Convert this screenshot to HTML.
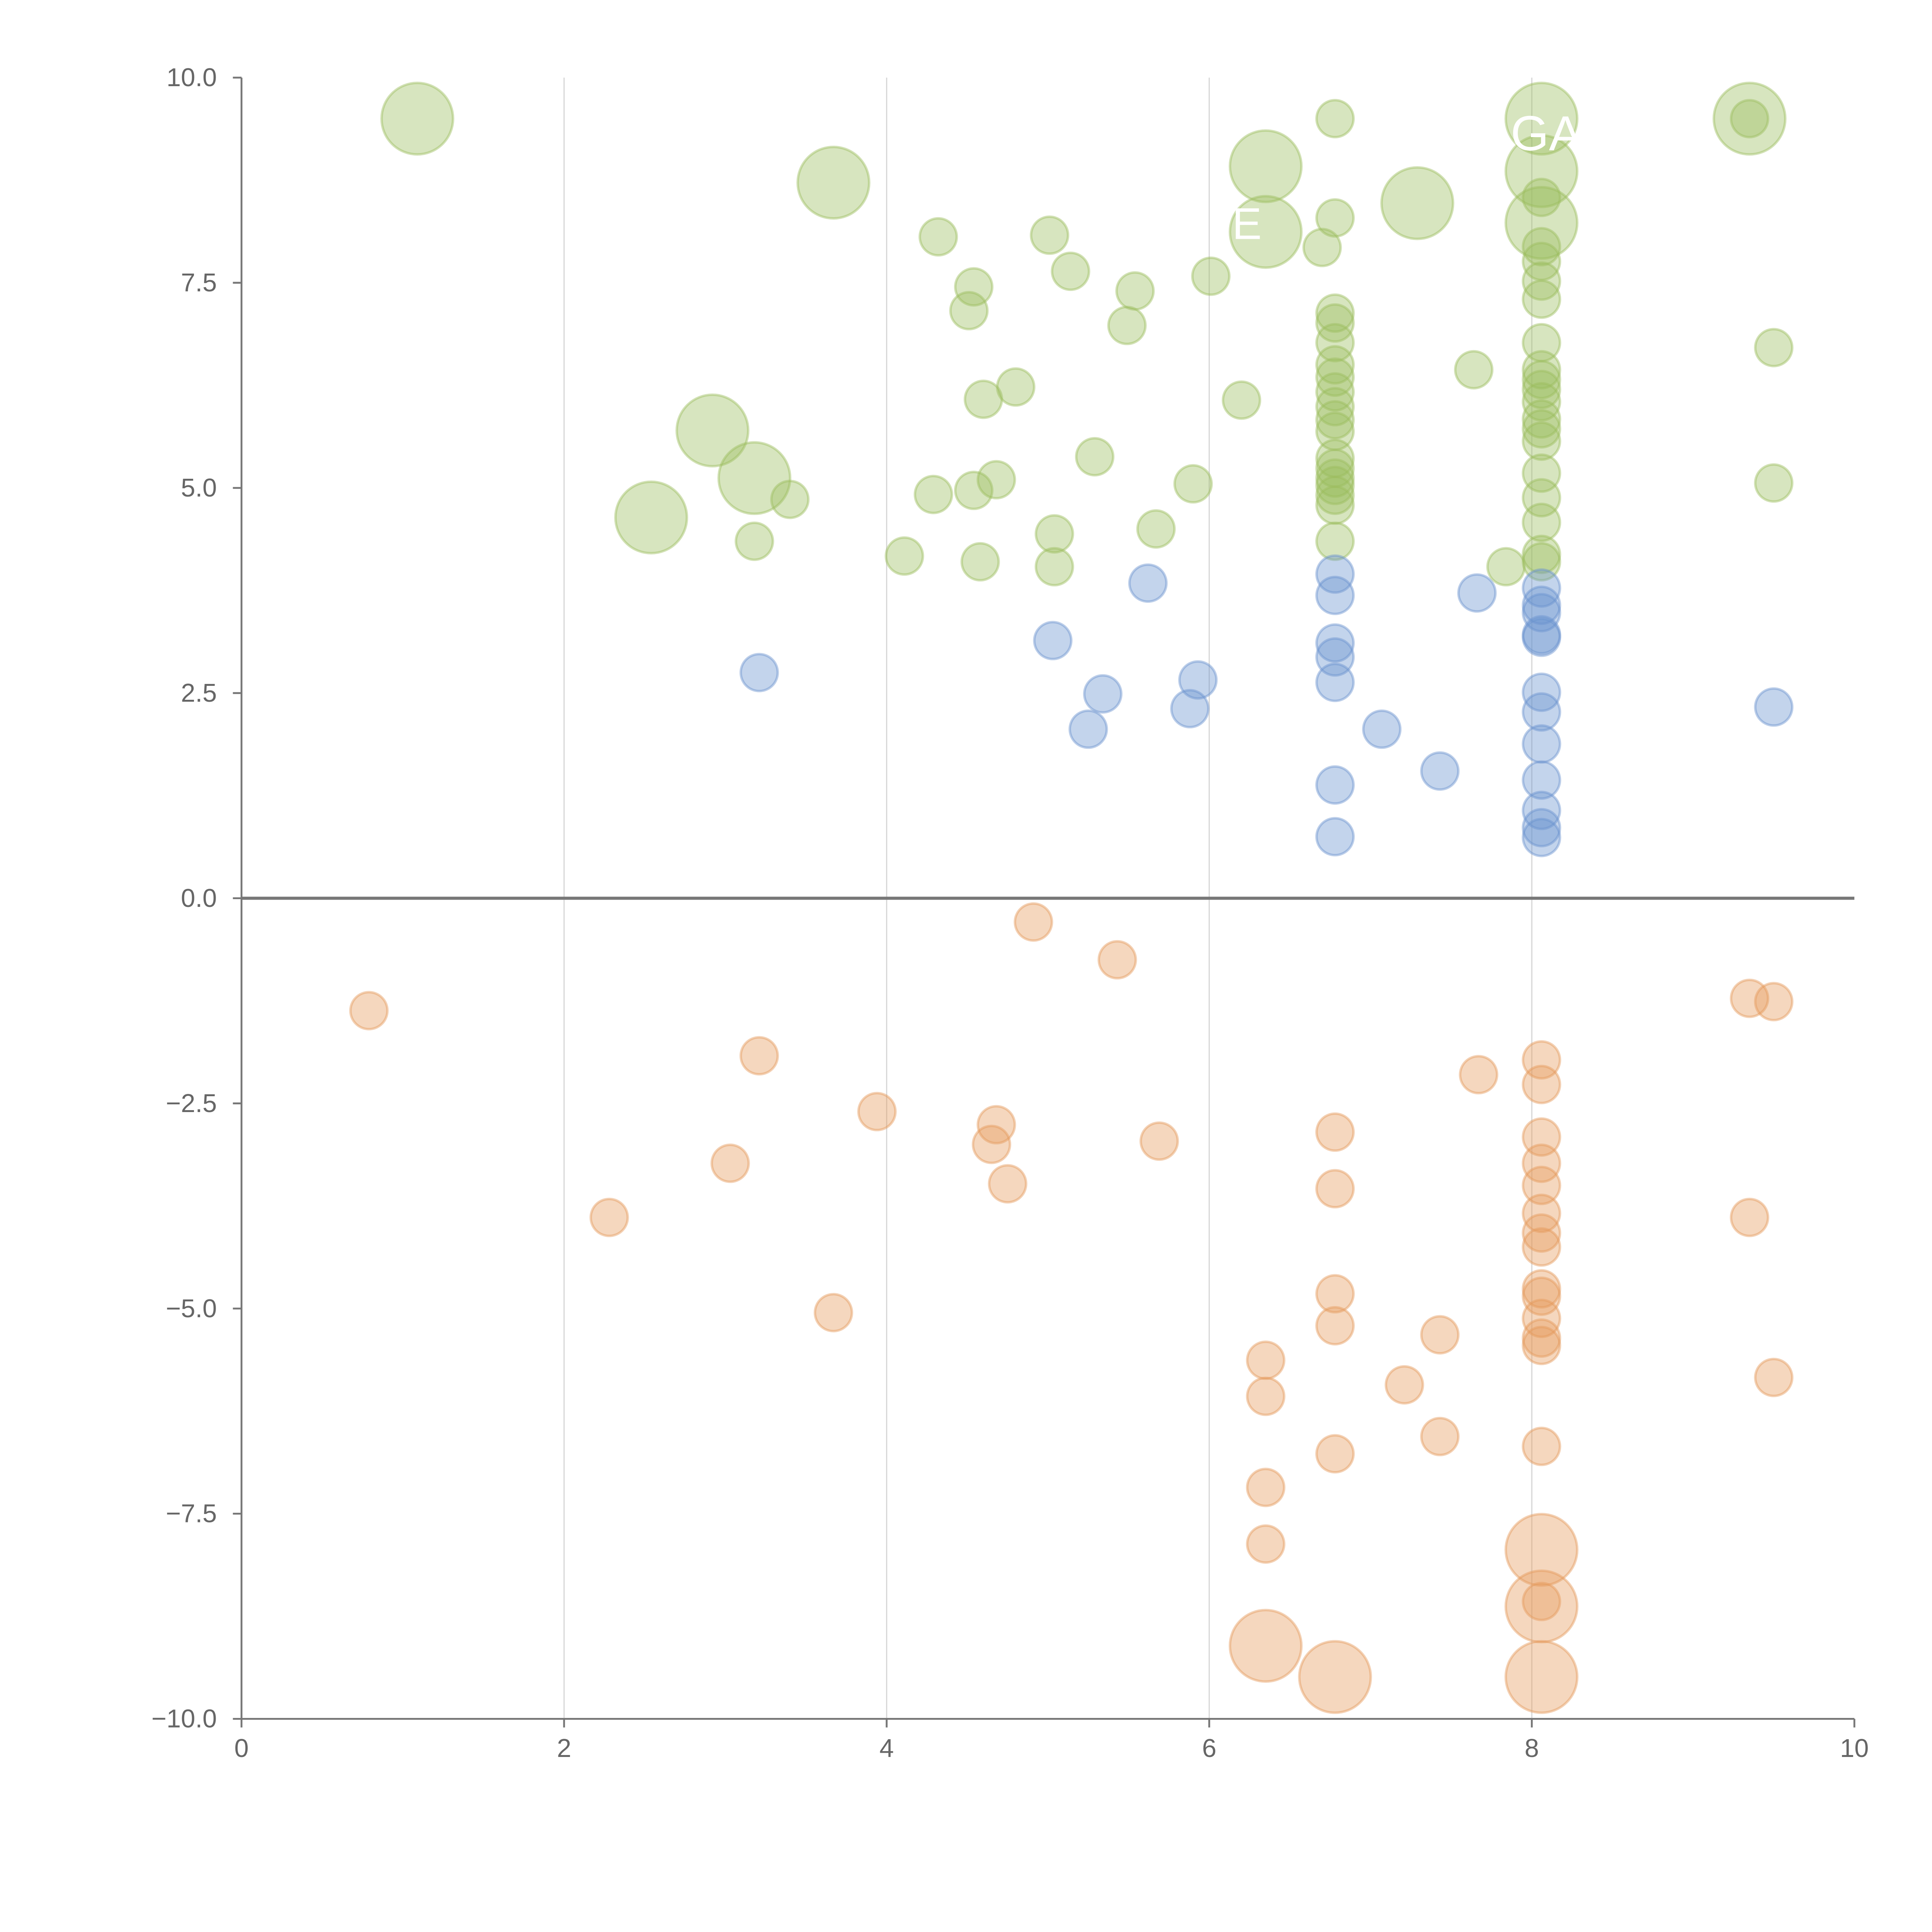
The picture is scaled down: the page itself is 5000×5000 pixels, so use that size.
<!DOCTYPE html>
<html><head><meta charset="utf-8"><style>
html,body{margin:0;padding:0;background:#fff;}
svg{display:block;}
text{font-family:"Liberation Sans",sans-serif;}
</style></head><body>
<svg id="chart" width="5000" height="5000" viewBox="0 0 1568 1568" xmlns="http://www.w3.org/2000/svg">
<g id="grid"></g>
<g id="marks"></g>
<g id="axes"></g>
<g id="labels">
<text x="1226" y="122" font-size="40" fill="#fff">GA</text>
<text x="1000" y="194" font-size="36" fill="#fff">E</text>
</g>
</svg>
<script>
const xTicks=[0,2,4,6,8,10];
const yTicks=[-10,-7.5,-5,-2.5,0,2.5,5,7.5,10];
const yTickLabels=["−10.0","−7.5","−5.0","−2.5","0.0","2.5","5.0","7.5","10.0"];
// green series
const greenX=[1.09,3.67,2.92,3.18,2.54,6.35,6.35,7.29,8.06,8.06,8.06,9.35,
 4.32,5.01,5.14,4.54,4.51,5.54,5.49,6.01,6.70,7.64,9.5,9.5,9.35,4.8,4.6,6.2,5.29,5.9,4.68,4.54,4.29,3.4,3.18,4.11,4.58,5.04,5.04,5.67,7.84,
 6.78,6.78,6.78,6.78,6.78,6.78,6.78,6.78,6.78,6.78,6.78,6.78,6.78,6.78,6.78,6.78,6.78,6.78,
 8.06,8.06,8.06,8.06,8.06,8.06,8.06,8.06,8.06,8.06,8.06,8.06,8.06,8.06,8.06,8.06,8.06,8.06];
const greenY=[9.5,8.72,5.7,5.12,4.64,8.92,8.12,8.47,9.5,8.86,8.23,9.5,
 8.06,8.08,7.64,7.45,7.16,7.4,6.98,7.58,7.93,6.44,6.71,5.06,9.5,6.23,6.08,6.07,5.38,5.05,5.1,4.97,4.92,4.86,4.35,4.17,4.1,4.44,4.04,4.5,4.04,
 7.13,7.01,6.77,6.5,6.35,6.17,5.99,5.83,5.69,5.36,5.24,5.12,5.03,4.91,4.79,4.35,9.5,8.29,
 8.54,7.94,7.76,7.52,7.3,6.77,6.44,6.32,6.2,6.05,5.84,5.72,5.57,5.18,4.88,4.58,4.19,4.1];
const greenBig=12;
// blue series
const blueX=[3.21,5.03,5.62,5.34,5.25,5.93,5.88,7.07,7.43,7.66,9.5,
 6.78,6.78,6.78,6.78,6.78,6.78,6.78,
 8.06,8.06,8.06,8.06,8.06,8.06,8.06,8.06,8.06,8.06,8.06,8.06];
const blueY=[2.75,3.14,3.84,2.49,2.06,2.66,2.31,2.06,1.55,3.72,2.33,
 3.95,3.69,3.11,2.94,2.63,1.38,0.75,
 3.78,3.57,3.48,3.21,3.18,2.51,2.27,1.88,1.44,1.07,0.86,0.74];
// orange series
const orangeX=[6.35,6.78,8.06,8.06,8.06,
 0.79,3.21,4.91,5.43,3.94,4.68,4.65,4.75,3.03,2.28,3.67,5.69,7.67,9.35,9.5,9.35,9.5,6.35,6.35,6.35,6.35,7.21,7.43,7.43,
 6.78,6.78,6.78,6.78,6.78,
 8.06,8.06,8.06,8.06,8.06,8.06,8.06,8.06,8.06,8.06,8.06,8.06,8.06,8.06,8.06];
const orangeY=[-9.11,-9.49,-7.94,-8.63,-9.49,
 -1.37,-1.92,-0.29,-0.75,-2.6,-2.76,-3.0,-3.48,-3.23,-3.89,-5.05,-2.96,-2.15,-1.22,-1.26,-3.89,-5.84,-5.63,-6.07,-7.18,-7.87,-5.93,-5.32,-6.56,
 -2.85,-3.54,-4.82,-5.21,-6.77,
 -1.97,-2.27,-2.91,-3.23,-3.5,-3.84,-4.08,-4.25,-4.76,-4.85,-5.12,-5.36,-5.45,-6.68,-8.57];
const orangeBig=5;

const X0=196,X1=1505,Y0=1395,Y1=63;
const sx=v=>X0+(v-0)/10*(X1-X0);
const sy=v=>Y0-(v+10)/20*(Y0-Y1);
const NS="http://www.w3.org/2000/svg";
function mk(tag,attrs,parent){const e=document.createElementNS(NS,tag);for(const k in attrs)e.setAttribute(k,attrs[k]);parent.appendChild(e);return e;}
const grid=document.getElementById('grid'),marks=document.getElementById('marks'),axes=document.getElementById('axes');
[2,4,6,8].forEach(v=>{const l=mk('line',{x1:sx(v),x2:sx(v),y1:Y1,y2:Y0,stroke:'#d8d8d8','stroke-width':1},grid);

});
function series(xs,ys,big,color,stroke,name){
 for(let i=xs.length-1;i>=0;i--){
  const r=i<big?29:15;
  const c=mk('circle',{cx:sx(xs[i]),cy:sy(ys[i]),r:r,fill:color,'fill-opacity':0.4,stroke:stroke,'stroke-opacity':0.45,'stroke-width':2},marks);
  
  
 }
}
series(greenX,greenY,greenBig,'#9cbd5e','#9cbd5e','green');
series(blueX,blueY,0,'#6a93cf','#6a93cf','blue');
series(orangeX,orangeY,orangeBig,'#e59a5c','#e59a5c','orange');
const zl=mk('line',{x1:X0,x2:X1,y1:sy(0),y2:sy(0),stroke:'#777','stroke-width':2.5},axes);


const ya=mk('line',{x1:X0,x2:X0,y1:Y1,y2:Y0,stroke:'#777','stroke-width':1.5},axes);


const xa=mk('line',{x1:X0,x2:X1,y1:Y0,y2:Y0,stroke:'#777','stroke-width':1.5},axes);


xTicks.forEach(v=>{
 const t=mk('line',{x1:sx(v),x2:sx(v),y1:Y0,y2:Y0+7,stroke:'#777','stroke-width':1.5},axes);
 
 
 const tx=mk('text',{x:sx(v),y:Y0+31,'font-size':21,fill:'#666','text-anchor':'middle'},axes);
 tx.textContent=String(v);
 
 
});
yTicks.forEach((v,i)=>{
 const t=mk('line',{x1:X0-7,x2:X0,y1:sy(v),y2:sy(v),stroke:'#777','stroke-width':1.5},axes);
 
 
 const tx=mk('text',{x:X0-20,y:sy(v)+7,'font-size':21,fill:'#666','text-anchor':'end'},axes);
 tx.textContent=yTickLabels[i];
 
 
});
</script>
</body></html>
